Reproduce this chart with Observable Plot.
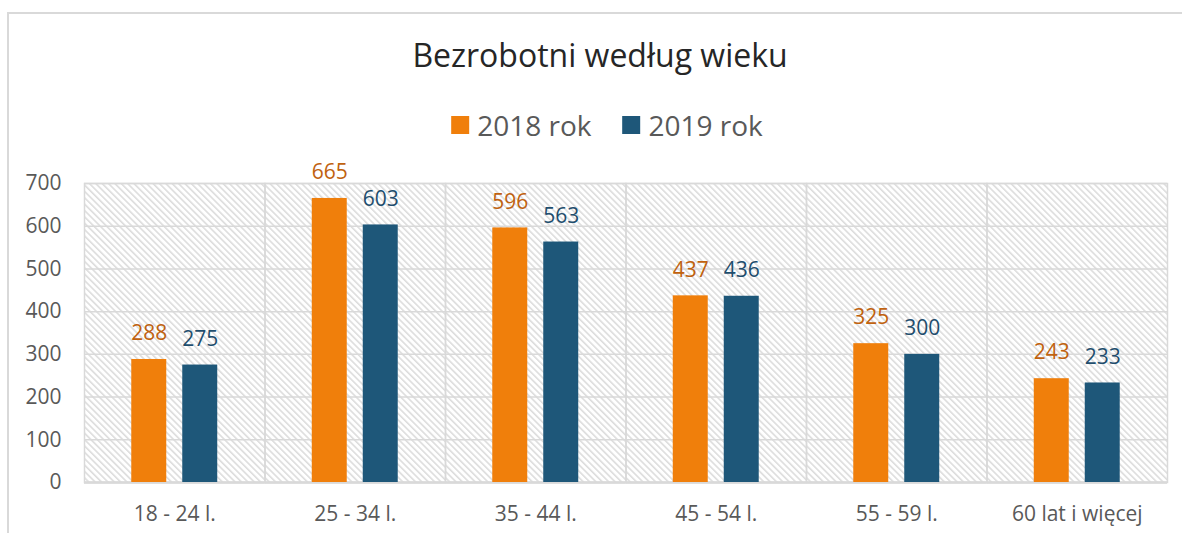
<!DOCTYPE html>
<html>
<head>
<meta charset="utf-8">
<script src="https://cdn.jsdelivr.net/npm/d3@7"></script>
<script src="https://cdn.jsdelivr.net/npm/@observablehq/plot@0.6"></script>
<style>
  html, body { margin: 0; padding: 0; background: #fff; }
  #wrap { position: relative; width: 1182px; height: 533px; overflow: hidden; font-family: "Open Sans", sans-serif; }
  #border { position: absolute; left: 7px; top: 12px; width: 1300px; height: 700px; border: 2px solid #d9d9d9; box-sizing: border-box; }
  #title { position: absolute; left: 600px; top: 39px; transform: translateX(-50%); font-size: 32px; line-height: 32px; color: #262626; white-space: nowrap; }
  #legend { position: absolute; left: 607px; top: 111px; transform: translateX(-50%); display: flex; align-items: center; font-size: 28px; line-height: 28px; color: #595959; white-space: nowrap; }
  .item { display: flex; align-items: center; }
  .item + .item { margin-left: 31px; }
  .sw { width: 18px; height: 18px; margin-right: 8px; }
  #chart { position: absolute; left: 0; top: 150px; }
</style>
</head>
<body>
<div id="wrap">
  <div id="border"></div>
  <div id="title">Bezrobotni według wieku</div>
  <div id="legend"></div>
  <div id="chart"></div>
</div>
<script>
const categories = ["18 - 24 l.", "25 - 34 l.", "35 - 44 l.", "45 - 54 l.", "55 - 59 l.", "60 lat i więcej"];
const series = ["2018 rok", "2019 rok"];
const values2018 = [288, 665, 596, 437, 325, 243];
const values2019 = [275, 603, 563, 436, 300, 233];
const yTicks = [0, 100, 200, 300, 400, 500, 600, 700];

const barColors = ["#F07F0B", "#1E5779"];
const labelColors = ["#C0620F", "#1F4E6E"];

const data = [];
categories.forEach((c, i) => {
  data.push({cat: c, series: series[0], value: values2018[i]});
  data.push({cat: c, series: series[1], value: values2019[i]});
});

// legend
const legend = document.getElementById("legend");
series.forEach((s, i) => {
  const it = document.createElement("div");
  it.className = "item";
  const sw = document.createElement("div");
  sw.className = "sw";
  sw.style.background = barColors[i];
  const tx = document.createElement("span");
  tx.textContent = s;
  it.appendChild(sw); it.appendChild(tx);
  legend.appendChild(it);
});

const grid = "#d9d9d9";
const chart = Plot.plot({
  width: 1182,
  height: 383,
  marginTop: 33,
  marginBottom: 51,
  marginLeft: 84,
  marginRight: 15,
  style: {background: "transparent", fontFamily: "Open Sans, sans-serif"},
  fx: {domain: categories, padding: 0, label: null, round: false},
  x: {domain: series, paddingInner: 0.314, paddingOuter: 0.927, axis: null, round: false},
  y: {domain: [0, 700], label: null},
  color: {domain: series, range: barColors},
  marks: [
    Plot.frame({fill: "url(#hatch)"}),
    Plot.gridY(yTicks, {stroke: grid, strokeOpacity: 1, strokeWidth: 1.5}),
    Plot.frame({stroke: grid, strokeWidth: 1.5}),
    Plot.ruleY([0], {stroke: grid, strokeWidth: 2.5}),
    Plot.axisY(yTicks, {tickSize: 0, tickPadding: 23, fontSize: 21, fill: "#595959", label: null}),
    Plot.axisFx({anchor: "bottom", tickSize: 0, tickPadding: 24, fontSize: 21, fill: "#595959", label: null}),
    Plot.barY(data, {fx: "cat", x: "series", y: "value", fill: "series"}),
    Plot.text(data, {fx: "cat", x: "series", y: "value", text: d => String(d.value), dy: -26, fontSize: 21,
      fill: d => labelColors[series.indexOf(d.series)]})
  ]
});

const svg = d3.select(chart);
svg.insert("defs", ":first-child").html(
  `<pattern id="hatch" patternUnits="userSpaceOnUse" width="6" height="4.5" patternTransform="rotate(45)">
     <rect width="6" height="4.5" fill="#ffffff"></rect>
     <line x1="0" y1="1" x2="6" y2="1" stroke="#dadada" stroke-width="1.5"></line>
   </pattern>`
);
document.getElementById("chart").appendChild(chart);
</script>
</body>
</html>
